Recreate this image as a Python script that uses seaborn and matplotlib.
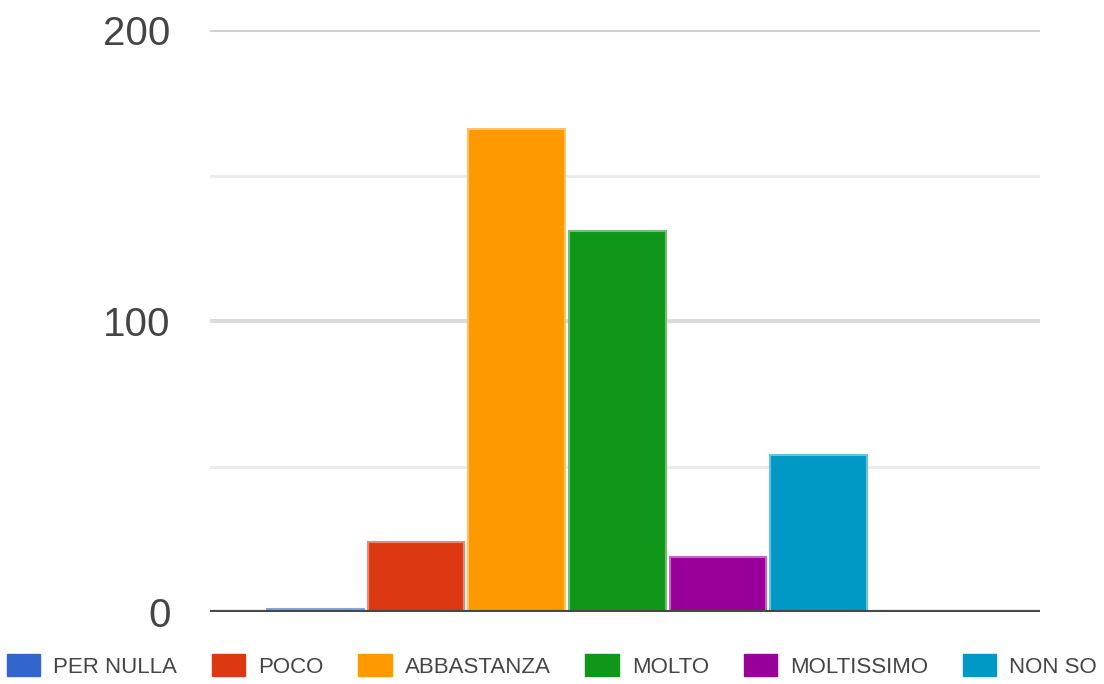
import pandas as pd
import matplotlib
matplotlib.use('Agg')
import matplotlib.pyplot as plt
import seaborn as sns
from matplotlib.patches import Patch

# dati
categorie = ['PER NULLA', 'POCO', 'ABBASTANZA', 'MOLTO', 'MOLTISSIMO', 'NON SO']
valori = [1, 24, 166, 131, 19, 54]
colori = ['#3366cc', '#dc3912', '#ff9900', '#109618', '#990099', '#0099c6']

df = pd.DataFrame({'categoria': categorie, 'valore': valori})

sns.set_theme(style="white")
plt.rcParams['font.family'] = ['Liberation Sans', 'DejaVu Sans']

fig = plt.figure(figsize=(11.04, 6.84), dpi=100)
ax = fig.add_axes([0.19, 0.105, 0.752, 0.851])

sns.barplot(data=df, x='categoria', y='valore', hue='categoria', order=categorie,
            palette=colori, saturation=1, legend=False, width=0.96, ax=ax, zorder=3)

for barra in ax.patches:
    c = barra.get_facecolor()
    barra.set_edgecolor((c[0] + (1 - c[0]) * 0.4, c[1] + (1 - c[1]) * 0.4, c[2] + (1 - c[2]) * 0.4))
    barra.set_linewidth(1.5)

# griglia
for y, col, lw in [(50, '#ebebeb', 2.2), (100, '#dcdcdc', 3), (150, '#ebebeb', 2.2), (200, '#d0d0d0', 3)]:
    ax.axhline(y, color=col, linewidth=lw, zorder=1)
ax.axhline(0, color='#484848', linewidth=3, zorder=4)

ax.set_xlim(-1.05, 7.2)
ax.set_ylim(0, 200)
ax.set_yticks([0, 100, 200])
ax.set_yticklabels(['0', '100', '200'], fontsize=29, color='#444444')
ax.tick_params(axis='y', length=0, pad=28)
ax.set_xticks([])
ax.set_xlabel('')
ax.set_ylabel('')
for s in ax.spines.values():
    s.set_visible(False)

maniglie = [Patch(facecolor=c, edgecolor=c) for c in colori]
fig.legend(maniglie, categorie, loc='lower center', bbox_to_anchor=(0.5, -0.02), ncol=6,
           frameon=False, fontsize=16, handlelength=1.5, handleheight=1.1,
           columnspacing=1.55, handletextpad=0.6, labelcolor='#444444')

plt.savefig('out.png', dpi=100)
plt.close()
